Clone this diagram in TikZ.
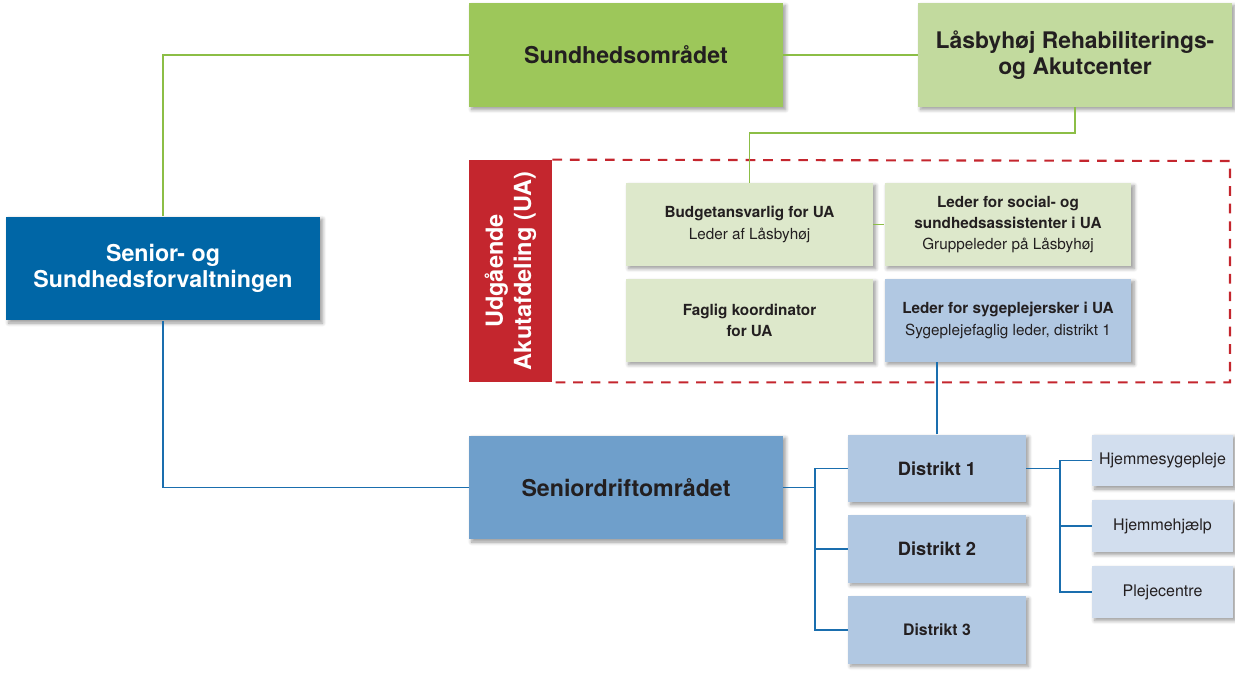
\documentclass[tikz,border=0pt]{standalone}
\usepackage{fontspec}
\setmainfont{TeX Gyre Heros}
\usepackage{xcolor}
\usetikzlibrary{shadows.blur}
\definecolor{sundgreen}{HTML}{9DC75A}
\definecolor{lasgreen}{HTML}{C2DA9E}
\definecolor{uagreen}{HTML}{DDE8CB}
\definecolor{darkblue}{HTML}{0066A6}
\definecolor{midblue}{HTML}{6F9FCB}
\definecolor{lightblue}{HTML}{B1C8E2}
\definecolor{paleblue}{HTML}{D2DEEE}
\definecolor{uared}{HTML}{C4262E}
\definecolor{linegreen}{HTML}{8CBE46}
\definecolor{lineblue}{HTML}{1A6EAE}
\definecolor{textdark}{HTML}{231F20}
\tikzset{
	box/.style={rectangle, align=center, inner sep=0pt, text=textdark,
			blur shadow={shadow xshift=1.5pt, shadow yshift=-1.5pt, shadow blur steps=6, shadow opacity=40}},
	bigbox/.style={box, minimum width=6.28cm, minimum height=2.08cm, font=\bfseries\fontsize{13.2}{15.2}\selectfont},
	uabox/.style={box, fill=uagreen, minimum width=4.94cm, minimum height=1.66cm, font=\fontsize{8.7}{12}\selectfont},
	distbox/.style={box, fill=lightblue, minimum width=3.56cm, minimum height=1.35cm, font=\bfseries\fontsize{10.4}{12}\selectfont},
	subbox/.style={box, fill=paleblue, minimum width=2.82cm, minimum height=1.04cm, font=\fontsize{9.1}{11}\selectfont},
	greenline/.style={draw=linegreen, line width=1pt},
	blueline/.style={draw=lineblue, line width=1.1pt},
	uadash/.style={draw=uared, line width=1.2pt, dash pattern=on 5.5pt off 4.5pt}
}

\begin{document}
\begin{tikzpicture}[x=0.02cm, y=-0.02cm]
	\useasboundingbox (0,0) rectangle (1235,675);

	% Top row
	\node[bigbox, fill=sundgreen] (sund) at (626,55) {Sundhedsområdet};
	\node[bigbox, fill=lasgreen, font=\bfseries\fontsize{13}{14.5}\selectfont] (las) at (1075,55) {Låsbyhøj Rehabiliterings-\\og Akutcenter};

	% Forvaltning
	\node[bigbox, fill=darkblue, text=white] (senior) at (163,268.5) {Senior- og\\Sundhedsforvaltningen};

	% Udgående Akutafdeling
	\node[rectangle, fill=uared, text=white, align=center, rotate=90, minimum width=4.44cm, minimum height=1.66cm,
		font=\bfseries\fontsize{13.4}{16}\selectfont] (ua) at (510.5,271) {Udgående\\Akutafdeling (UA)};
	\coordinate (uane) at (1230,161);
	\draw[uadash] (ua.south east) -- (uane) -- (uane |- ua.south west) -- (ua.south west);

	\node[uabox] (budget) at (749.5,224.5) {\textbf{Budgetansvarlig for UA}\\Leder af Låsbyhøj};
	\node[uabox] (social) at (1008,224.5) {\textbf{Leder for social- og}\\\textbf{sundhedsassistenter i UA}\\Gruppeleder på Låsbyhøj};
	\node[uabox, font=\bfseries\fontsize{8.7}{11.5}\selectfont] (faglig) at (749.5,320.5) {Faglig koordinator\\for UA};
	\node[uabox, fill=lightblue] (syg) at (1008,320.5) {\textbf{Leder for sygeplejersker i UA}\\Sygeplejefaglig leder, distrikt 1};

	% Seniordrift
	\node[bigbox, fill=midblue] (drift) at (626,487.5) {Seniordriftområdet};
	\node[distbox] (d1) at (937,468.5) {Distrikt 1};
	\node[distbox] (d2) at (937,549) {Distrikt 2};
	\node[distbox, font=\bfseries\fontsize{9}{11}\selectfont] (d3) at (937,630) {Distrikt 3};
	\node[subbox] (hs) at (1162.5,460.5) {Hjemmesygepleje};
	\node[subbox] (hh) at (1162.5,526) {Hjemmehjælp};
	\node[subbox] (pc) at (1162.5,592) {Plejecentre};

	% Green lines
	\draw[greenline] (sund.west) -| (senior.north);
	\draw[greenline] (sund.east) -- (las.west);
	\draw[greenline] (las.south) -- ++(0,26) -| (budget.north);
	\draw[greenline] (budget.east) -- (social.west);

	% Blue lines
	\draw[blueline] (senior.south) |- (drift.west);
	\draw[blueline] (d1.north) -- (d1.north |- syg.south);
	\draw[blueline] (drift.east) -- ++(32,0) coordinate (j1);
	\draw[blueline] (d1.west) -| (j1) |- (d3.west);
	\draw[blueline] (j1 |- d2.west) -- (d2.west);
	\draw[blueline] (d1.east) -- ++(34,0) coordinate (j2);
	\draw[blueline] (hs.west) -| (j2) |- (pc.west);
	\draw[blueline] (j2 |- hh.west) -- (hh.west);
\end{tikzpicture}
\end{document}
